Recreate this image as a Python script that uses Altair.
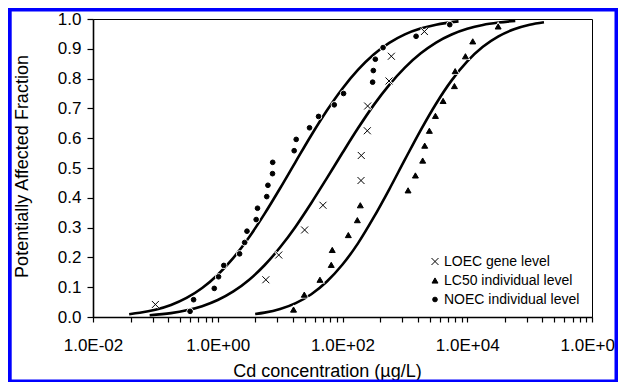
import altair as alt
import pandas as pd

# ---------------- data ----------------
series_names = ["LOEC gene level", "LC50 individual level", "NOEC individual level"]

loec_x = [0.1, 5.9, 9.5, 24.7, 48.6, 198, 200, 250, 253, 557, 607, 2056]
loec_y = [0.042, 0.125, 0.208, 0.292, 0.375, 0.458, 0.542, 0.625, 0.708, 0.792, 0.875, 0.958]

lc50_x = [16.4, 24.4, 43.5, 66, 68.5, 124, 173, 193, 1125, 1475, 1930, 2080, 2470,
          3090, 4100, 6230, 6400, 9350, 12250, 31300]
lc50_y = [0.025, 0.075, 0.125, 0.175, 0.225, 0.275, 0.325, 0.375, 0.425, 0.475,
          0.525, 0.575, 0.625, 0.675, 0.725, 0.775, 0.825, 0.875, 0.925, 0.975]

noec_x = [0.36, 0.41, 0.88, 1.03, 1.25, 2.24, 2.7, 2.94, 4.13, 4.34, 6.1, 6.37, 7.55,
          7.6, 16.8, 18.1, 29.6, 41.3, 73.8, 104, 304, 312, 336, 447, 1513, 5240]
noec_y = [0.019, 0.058, 0.096, 0.135, 0.173, 0.212, 0.250, 0.288, 0.327, 0.365, 0.404,
          0.442, 0.481, 0.519, 0.558, 0.596, 0.635, 0.673, 0.712, 0.750, 0.788, 0.827,
          0.865, 0.904, 0.942, 0.981]

# fitted curves
curve_noec_x = [0.038, 0.0562, 0.1, 0.178, 0.316, 0.562, 1, 1.78, 3.16, 5.62, 10, 17.8,
                31.6, 56.2, 100, 178, 316, 562, 1000, 1778, 3162, 7244]
curve_noec_y = [0.0094, 0.014, 0.0243, 0.0403, 0.0639, 0.0973, 0.1419, 0.1985, 0.267,
                0.346, 0.432, 0.5215, 0.610, 0.693, 0.767, 0.830, 0.881, 0.920, 0.9486,
                0.968, 0.981, 0.992]

curve_loec_x = [0.081, 0.178, 0.316, 0.562, 1, 1.78, 3.16, 5.62, 10, 17.8, 31.6, 56.2,
                100, 178, 316, 562, 1000, 1778, 3162, 5623, 10000, 17783, 31623, 58884]
curve_loec_y = [0.006, 0.0131, 0.0223, 0.0363, 0.0569, 0.0857, 0.1243, 0.1736, 0.234,
                0.304, 0.3825, 0.466, 0.551, 0.634, 0.711, 0.779, 0.837, 0.884, 0.921,
                0.948, 0.967, 0.980, 0.988, 0.9937]

curve_lc50_x = [3.98, 5.62, 10, 17.8, 31.6, 56.2, 100, 178, 316, 562, 1000, 1778, 3162,
                5623, 10000, 17783, 31623, 56234, 100000, 169824]
curve_lc50_y = [0.0099, 0.0146, 0.0268, 0.0465, 0.0764, 0.119, 0.176, 0.248, 0.334,
                0.4286, 0.528, 0.6255, 0.7157, 0.794, 0.8577, 0.9066, 0.9418, 0.9656,
                0.9808, 0.9893]

major_ticks = [0.01, 1, 100, 10000, 1000000]
major_labels = ["1.0E-02", "1.0E+00", "1.0E+02", "1.0E+04", "1.0E+06"]
minor_mult = [4, 9, 16, 25, 36, 49, 64, 81]
y_ticks = [0.0, 0.1, 0.2, 0.3, 0.4, 0.5, 0.6, 0.7, 0.8, 0.9, 1.0]

# ---------------- tables ----------------
pts = pd.concat([
    pd.DataFrame({"x": loec_x, "y": loec_y, "series": series_names[0]}),
    pd.DataFrame({"x": lc50_x, "y": lc50_y, "series": series_names[1]}),
    pd.DataFrame({"x": noec_x, "y": noec_y, "series": series_names[2]}),
], ignore_index=True)

curves = pd.concat([
    pd.DataFrame({"x": curve_noec_x, "y": curve_noec_y, "curve": "noec"}),
    pd.DataFrame({"x": curve_loec_x, "y": curve_loec_y, "curve": "loec"}),
    pd.DataFrame({"x": curve_lc50_x, "y": curve_lc50_y, "curve": "lc50"}),
], ignore_index=True)

x_ticks = sorted(set(major_ticks + [m * k for m in major_ticks[:-1] for k in minor_mult]))
label_expr = "".join(
    f"datum.value == {v} ? '{l}' : " for v, l in zip(major_ticks, major_labels)
) + "''"

FONT = "Liberation Sans"

xscale = alt.Scale(type="log", domain=[0.01, 1000000])
yscale = alt.Scale(domain=[0, 1], nice=False)

xaxis = alt.Axis(
    values=x_ticks, tickCount=200, labelExpr=label_expr, labelFlush=False,
    labelOverlap=False, grid=False, tickSize=5, tickWidth=1.2, domainWidth=1.6,
    domainColor="black", tickColor="black", labelFont=FONT, labelFontSize=17,
    labelColor="black", labelPadding=23, labelBaseline="middle",
    title="Cd concentration (µg/L)", titleFont=FONT, titleFontSize=18,
    titleFontWeight="normal", titleColor="black", titleX=234, titleY=54,
    titleBaseline="middle",
)
yaxis = alt.Axis(
    values=y_ticks, tickCount=200, format=".1f", labelOverlap=False, grid=False,
    tickSize=6, tickWidth=1.2, domainWidth=1.6, domainColor="black",
    tickColor="black", labelFont=FONT, labelFontSize=17, labelColor="black",
    labelPadding=6,
    title="Potentially Affected Fraction", titleFont=FONT, titleFontSize=18,
    titleFontWeight="normal", titleColor="black", titleX=-71, titleY=147,
    titleAngle=270, titleBaseline="middle", titleAlign="center",
)

lines = alt.Chart(curves).mark_line(
    color="black", strokeWidth=2.6, interpolate="monotone"
).encode(
    x=alt.X("x:Q", scale=xscale, axis=xaxis),
    y=alt.Y("y:Q", scale=yscale, axis=yaxis),
    detail="curve:N",
)

legend = alt.Legend(
    title=None, orient="none", legendX=335, legendY=235.5, padding=0,
    labelFont=FONT, labelFontSize=14, labelColor="black", labelOffset=2,
    rowPadding=5, symbolStrokeColor="black", symbolStrokeWidth=1,
)

x_path = "M-1,-1L1,1M-1,1L1,-1"
shape_scale = alt.Scale(domain=series_names, range=[x_path, "triangle-up", "circle"])
size_scale = alt.Scale(domain=series_names, range=[49, 22, 18])

# white halo under the markers (breaks the curves like in the original)
halo = alt.Chart(pts).mark_point(
    stroke="white", fill="white", strokeWidth=2.5, opacity=1, filled=True
).encode(
    x="x:Q", y="y:Q",
    shape=alt.Shape("series:N", scale=shape_scale, legend=legend),
    size=alt.Size("series:N", scale=size_scale, legend=legend),
)

points = alt.Chart(pts).mark_point(strokeWidth=1, opacity=1).encode(
    x="x:Q",
    y="y:Q",
    shape=alt.Shape("series:N", scale=shape_scale, legend=legend),
    fill=alt.Fill("series:N", scale=alt.Scale(domain=series_names,
                  range=["transparent", "black", "black"]), legend=legend),
    stroke=alt.Stroke("series:N", scale=alt.Scale(domain=series_names,
                      range=["black", "black", "black"]), legend=legend),
    size=alt.Size("series:N", scale=size_scale, legend=legend),
)

frame = alt.Chart(pd.DataFrame({"a": [0]})).mark_rect(
    fillOpacity=0, stroke="#0000FF", strokeWidth=5
).encode(
    x=alt.value(-83.8), x2=alt.value(524), y=alt.value(-10), y2=alt.value(363)
)

chart = alt.layer(lines, halo, points, frame).properties(
    width=499, height=298,
    padding={"left": 85, "top": 11, "right": 26, "bottom": 65},
    autosize=alt.AutoSizeParams(type="none"),
    background="white",
).configure_view(stroke="black", strokeWidth=1)

chart.save("out.html", embed_options={"renderer": "svg", "actions": False})
